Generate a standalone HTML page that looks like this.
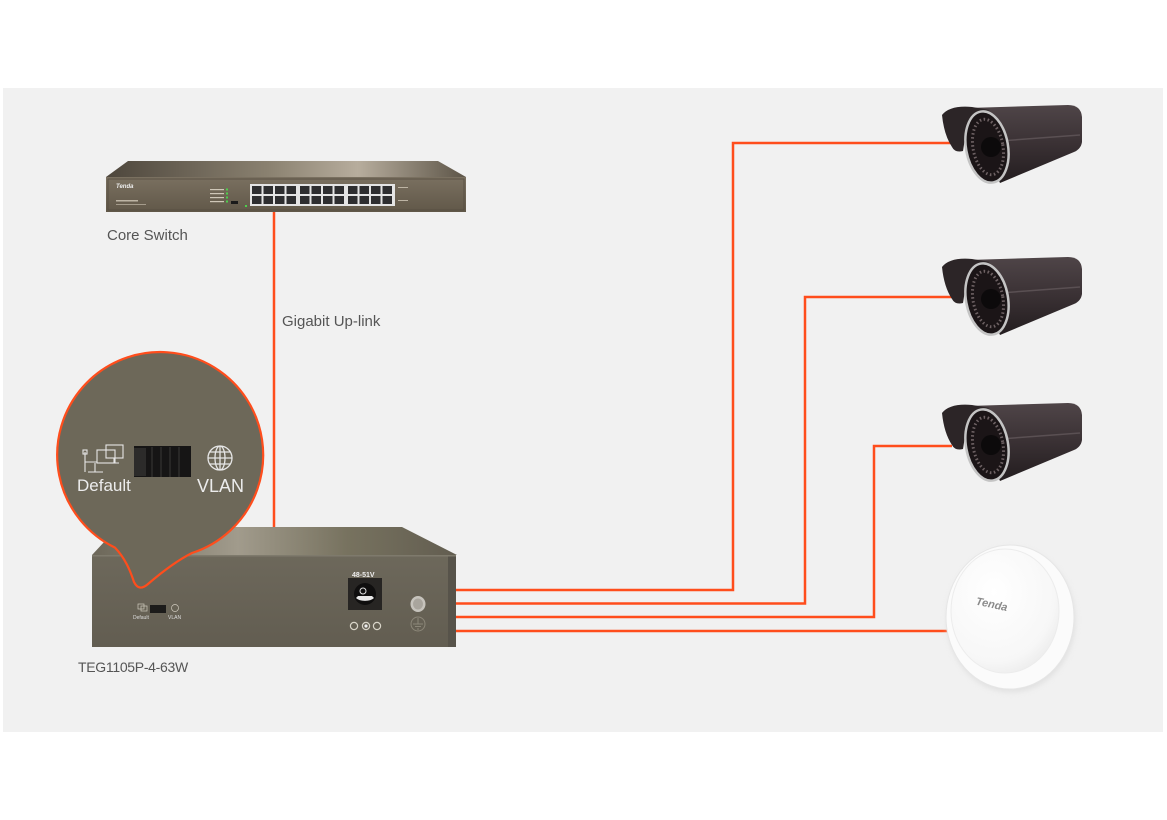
<!DOCTYPE html>
<html><head><meta charset="utf-8"><style>
html,body{margin:0;padding:0;background:#fff;}
svg{display:block;}
text{font-family:"Liberation Sans",sans-serif;}
</style></head><body>
<svg width="1167" height="820" viewBox="0 0 1167 820" xmlns="http://www.w3.org/2000/svg">
<defs>
<linearGradient id="cstop" x1="0" y1="0" x2="1" y2="0">
<stop offset="0" stop-color="#4d463c"/><stop offset="0.45" stop-color="#8a8170"/><stop offset="0.7" stop-color="#b7ad9d"/><stop offset="1" stop-color="#5d5548"/>
</linearGradient>
<linearGradient id="cfront" x1="0" y1="0" x2="0" y2="1">
<stop offset="0" stop-color="#7a7060"/><stop offset="1" stop-color="#615849"/>
</linearGradient>
<linearGradient id="ptop" x1="0" y1="0" x2="1" y2="0">
<stop offset="0" stop-color="#6c6759"/><stop offset="0.4" stop-color="#a19b8c"/><stop offset="0.7" stop-color="#77725f"/><stop offset="1" stop-color="#625d50"/>
</linearGradient>
<linearGradient id="pfront" x1="0" y1="0" x2="0" y2="1">
<stop offset="0" stop-color="#6d685b"/><stop offset="1" stop-color="#625d51"/>
</linearGradient>
<linearGradient id="body" x1="0" y1="0" x2="0" y2="1">
<stop offset="0" stop-color="#4f4548"/><stop offset="0.5" stop-color="#3a3134"/><stop offset="1" stop-color="#231d1f"/>
</linearGradient>
<radialGradient id="dome" cx="0.4" cy="0.35" r="0.7">
<stop offset="0" stop-color="#ffffff"/><stop offset="0.8" stop-color="#f7f7f7"/><stop offset="1" stop-color="#ececec"/>
</radialGradient>
<filter id="sh" x="-20%" y="-20%" width="140%" height="140%"><feGaussianBlur stdDeviation="3"/></filter>
</defs>

<rect x="3" y="88" width="1160" height="644" fill="#f1f1f1"/>

<!-- connectors -->
<g fill="none" stroke="#ff4d1c" stroke-width="2.5">
<polyline points="274,210 274,527"/>
<polyline points="455,590 733,590 733,143 952,143"/>
<polyline points="455,603.5 805,603.5 805,297 952,297"/>
<polyline points="455,617 874,617 874,446 952,446"/>
<polyline points="455,631 947,631"/>
</g>

<!-- core switch -->
<polygon points="128,161 438,161 466,177 106,177" fill="url(#cstop)"/>
<rect x="106" y="177" width="360" height="35" fill="url(#cfront)"/>
<rect x="108" y="179" width="356" height="31" fill="none" stroke="#544c40" stroke-width="0.8"/>
<text x="116" y="188" font-size="6" font-weight="bold" fill="#eee" font-style="italic">Tenda</text>
<rect x="116" y="200" width="22" height="1.5" fill="#bdb4a4"/>
<rect x="116" y="204" width="30" height="1" fill="#a59c8c"/>
<g fill="#cfc7b8"><rect x="210" y="189" width="14" height="1.2"/><rect x="210" y="193" width="14" height="1.2"/><rect x="210" y="197" width="14" height="1.2"/><rect x="210" y="201" width="14" height="1.2"/></g>
<g fill="#4cd04c"><rect x="226" y="188.5" width="2" height="2"/><rect x="226" y="192.5" width="2" height="2"/><rect x="226" y="196.5" width="2" height="2"/><rect x="226" y="200.5" width="2" height="2"/><rect x="245" y="205" width="2" height="2"/></g>
<rect x="231" y="201" width="7" height="3" fill="#1a1a1a"/>
<rect x="250" y="184" width="145" height="22" fill="#e4e4e4"/>
<g fill="#2e2e30">
<rect x="252" y="186" width="9.5" height="8"/><rect x="263.5" y="186" width="9.5" height="8"/><rect x="275" y="186" width="9.5" height="8"/><rect x="286.5" y="186" width="9.5" height="8"/>
<rect x="300" y="186" width="9.5" height="8"/><rect x="311.5" y="186" width="9.5" height="8"/><rect x="323" y="186" width="9.5" height="8"/><rect x="334.5" y="186" width="9.5" height="8"/>
<rect x="348" y="186" width="9.5" height="8"/><rect x="359.5" y="186" width="9.5" height="8"/><rect x="371" y="186" width="9.5" height="8"/><rect x="382.5" y="186" width="9.5" height="8"/>
<rect x="252" y="196" width="9.5" height="8"/><rect x="263.5" y="196" width="9.5" height="8"/><rect x="275" y="196" width="9.5" height="8"/><rect x="286.5" y="196" width="9.5" height="8"/>
<rect x="300" y="196" width="9.5" height="8"/><rect x="311.5" y="196" width="9.5" height="8"/><rect x="323" y="196" width="9.5" height="8"/><rect x="334.5" y="196" width="9.5" height="8"/>
<rect x="348" y="196" width="9.5" height="8"/><rect x="359.5" y="196" width="9.5" height="8"/><rect x="371" y="196" width="9.5" height="8"/><rect x="382.5" y="196" width="9.5" height="8"/>
</g>
<g fill="#bdb4a4"><rect x="398" y="187" width="10" height="1"/><rect x="398" y="200" width="10" height="1"/></g>
<text x="107" y="240" font-size="15" fill="#555">Core Switch</text>
<text x="282" y="326" font-size="15" fill="#555">Gigabit Up-link</text>

<!-- PoE switch -->
<polygon points="92,555 118,527 402,527 457,555" fill="url(#ptop)"/>
<rect x="92" y="555" width="364" height="92" fill="url(#pfront)"/>
<rect x="448" y="555" width="8" height="92" fill="#57534a"/>
<rect x="92" y="555" width="364" height="1.5" fill="#7e7a6c"/>
<!-- front small switch -->
<g stroke="#cfcabd" stroke-width="0.7" fill="none"><rect x="138" y="604" width="6" height="5"/><rect x="141" y="606" width="6" height="5"/><circle cx="175" cy="608" r="3.5"/></g>
<rect x="150" y="605" width="16" height="8" fill="#1c1b1a"/>
<text x="133" y="619" font-size="5" fill="#ddd">Default</text>
<text x="168" y="619" font-size="5" fill="#ddd">VLAN</text>
<!-- power jack -->
<text x="352" y="577" font-size="7" fill="#eee" font-weight="bold">48-51V</text>
<rect x="348" y="578" width="34" height="32" fill="#272523"/>
<circle cx="365" cy="594" r="11" fill="#0f0e0e"/>
<path d="M356 598 A10 5 0 0 0 374 598 L372 596 L358 596 Z" fill="#e8e8e8"/>
<circle cx="363" cy="591" r="3" fill="none" stroke="#ddd" stroke-width="1"/>
<g fill="none" stroke="#d8d4c8" stroke-width="1.2"><circle cx="354" cy="626" r="3.6"/><circle cx="366" cy="626" r="3.6"/><circle cx="377" cy="626" r="3.6"/></g>
<circle cx="366" cy="626" r="1.6" fill="#eee"/>
<ellipse cx="418" cy="604" rx="7.5" ry="8" fill="#c6c3bc"/>
<ellipse cx="418" cy="604" rx="5" ry="5.5" fill="#a9a59d"/>
<circle cx="418" cy="624" r="7" fill="none" stroke="#8c8779" stroke-width="1"/>
<path d="M418 618 V624 M413 624 H423 M415 626.5 H421 M417 629 H419" stroke="#8c8779" stroke-width="1"/>
<text x="78" y="672" font-size="14" fill="#555" letter-spacing="-0.3">TEG1105P-4-63W</text>

<!-- bubble -->
<path d="M115 547.6 A103 103 0 1 1 192 553 C178 560 162 572 148 584 Q139 592 134 582 C130 570 125 558 115 547.6 Z" fill="#6d6859" stroke="#ff4d1c" stroke-width="2.2"/>
<g stroke="#e6e6e6" stroke-width="1.1" fill="none">
<rect x="97" y="450" width="18" height="13"/>
<rect x="106" y="445" width="17" height="13"/>
<path d="M114 458 V463 M110 463 H119"/>
<path d="M85 452 V472 M85 462 H97 M88 472 H103 M95 463 V472"/>
<rect x="83" y="450" width="4" height="4"/>
</g>
<rect x="134" y="446" width="57" height="31" fill="#161515"/>
<rect x="134" y="448" width="12" height="28" fill="#2c2b2a"/>
<g stroke="#3a3938" stroke-width="1"><path d="M152 447 V477 M161 447 V477 M170 447 V477 M179 447 V477"/></g>
<g stroke="#e6e6e6" stroke-width="1.3" fill="none">
<circle cx="220" cy="458" r="12"/>
<ellipse cx="220" cy="458" rx="5" ry="12"/>
<path d="M208 458 H232 M210 452 H230 M210 464 H230 M220 446 V470"/>
</g>
<text x="77" y="491" font-size="17" fill="#ececec">Default</text>
<text x="197" y="492" font-size="18" fill="#ececec">VLAN</text>

<!-- cameras -->
<g transform="translate(0,147)">
<path d="M968 -39 L1068 -42 Q1081 -42 1082 -30 L1082 -5 Q1081 2 1074 5 L1000 36 Z" fill="url(#body)"/>
<path d="M1000 -6 L1080 -12" stroke="#5a5053" stroke-width="1.5"/>
<path d="M942 -32 Q950 -42 972 -40 L990 -37 Q970 -31 966 -15 L963 4 Q955 6 952 0 Q944 -12 942 -32 Z" fill="#2c2527"/>
<ellipse cx="987" cy="0" rx="21" ry="36" transform="rotate(-10 987 0)" fill="#1b1517" stroke="#c4c4c4" stroke-width="2.5"/>
<ellipse cx="988" cy="0" rx="15" ry="28" transform="rotate(-10 988 0)" fill="none" stroke="#6e6264" stroke-width="3" stroke-dasharray="1.5 2.5"/>
<circle cx="991" cy="0" r="10" fill="#0c0a0b"/>
</g>
<g transform="translate(0,299)">
<path d="M968 -39 L1068 -42 Q1081 -42 1082 -30 L1082 -5 Q1081 2 1074 5 L1000 36 Z" fill="url(#body)"/>
<path d="M1000 -6 L1080 -12" stroke="#5a5053" stroke-width="1.5"/>
<path d="M942 -32 Q950 -42 972 -40 L990 -37 Q970 -31 966 -15 L963 4 Q955 6 952 0 Q944 -12 942 -32 Z" fill="#2c2527"/>
<ellipse cx="987" cy="0" rx="21" ry="36" transform="rotate(-10 987 0)" fill="#1b1517" stroke="#c4c4c4" stroke-width="2.5"/>
<ellipse cx="988" cy="0" rx="15" ry="28" transform="rotate(-10 988 0)" fill="none" stroke="#6e6264" stroke-width="3" stroke-dasharray="1.5 2.5"/>
<circle cx="991" cy="0" r="10" fill="#0c0a0b"/>
</g>
<g transform="translate(0,445)">
<path d="M968 -39 L1068 -42 Q1081 -42 1082 -30 L1082 -5 Q1081 2 1074 5 L1000 36 Z" fill="url(#body)"/>
<path d="M1000 -6 L1080 -12" stroke="#5a5053" stroke-width="1.5"/>
<path d="M942 -32 Q950 -42 972 -40 L990 -37 Q970 -31 966 -15 L963 4 Q955 6 952 0 Q944 -12 942 -32 Z" fill="#2c2527"/>
<ellipse cx="987" cy="0" rx="21" ry="36" transform="rotate(-10 987 0)" fill="#1b1517" stroke="#c4c4c4" stroke-width="2.5"/>
<ellipse cx="988" cy="0" rx="15" ry="28" transform="rotate(-10 988 0)" fill="none" stroke="#6e6264" stroke-width="3" stroke-dasharray="1.5 2.5"/>
<circle cx="991" cy="0" r="10" fill="#0c0a0b"/>
</g>

<!-- access point -->
<ellipse cx="1011" cy="620" rx="64" ry="72" fill="#d8d8d8" filter="url(#sh)" opacity="0.7"/>
<ellipse cx="1010" cy="617" rx="64" ry="72" fill="#fbfbfb" stroke="#e6e6e6" stroke-width="1"/>
<ellipse cx="1005" cy="611" rx="54" ry="62" fill="url(#dome)" stroke="#ececec" stroke-width="1"/>
<text x="975" y="608" font-size="11" font-style="italic" font-weight="bold" fill="#8a8a8a" transform="rotate(12 992 608)">Tenda</text>
</svg>
</body></html>
